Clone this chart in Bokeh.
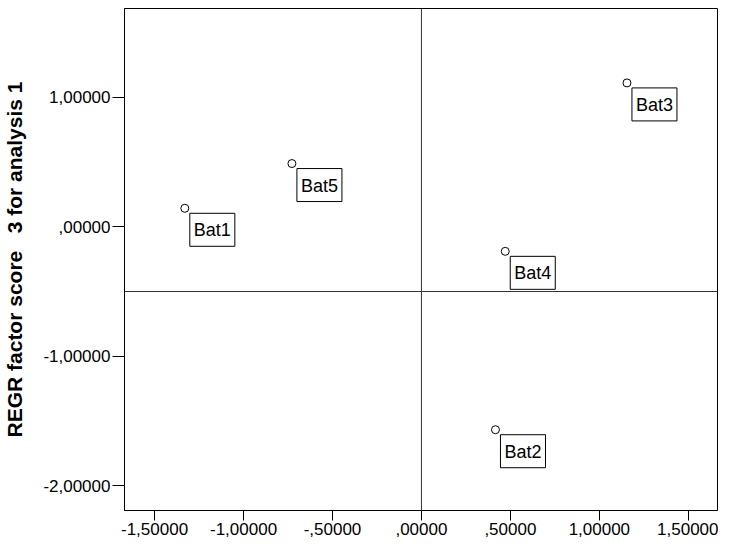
from bokeh.plotting import figure
from bokeh.models import Span, Label, FixedTicker
from bokeh.embed import file_html
from bokeh.resources import INLINE

# ---- data ----
names = ["Bat1", "Bat2", "Bat3", "Bat4", "Bat5"]
x_vals = [-1.330, 0.416, 1.155, 0.471, -0.728]
y_vals = [0.142, -1.566, 1.109, -0.190, 0.487]

x_ticks = [-1.5, -1.0, -0.5, 0.0, 0.5, 1.0, 1.5]
x_tick_labels = ["-1,50000", "-1,00000", "-,50000", ",00000", ",50000", "1,00000", "1,50000"]
y_ticks = [-2.0, -1.0, 0.0, 1.0]
y_tick_labels = ["-2,00000", "-1,00000", ",00000", "1,00000"]

ref_x = 0.0
ref_y = -0.5

y_title = "REGR factor score\u00a0\u00a0\u00a03 for analysis 1"

FONT = "Liberation Sans"

p = figure(width=718, height=541, x_range=(-1.669, 1.664), y_range=(-2.189, 1.683),
           output_backend="svg", toolbar_location=None,
           min_border_left=113, min_border_right=1, min_border_top=8, min_border_bottom=31)

p.grid.visible = False
p.outline_line_color = "black"
p.outline_line_width = 1
p.background_fill_color = "white"
p.border_fill_color = "white"

for ax, ticks, labels in ((p.xaxis[0], x_ticks, x_tick_labels), (p.yaxis[0], y_ticks, y_tick_labels)):
    ax.ticker = FixedTicker(ticks=ticks)
    ax.major_label_overrides = {t: l for t, l in zip(ticks, labels)}
    ax.minor_tick_line_color = None
    ax.major_tick_in = 0
    ax.major_tick_line_color = "black"
    ax.axis_line_color = "black"
    ax.major_label_text_font = FONT
    ax.major_label_text_font_size = "17px"
    ax.major_label_text_color = "black"

p.xaxis.major_tick_out = 10
p.yaxis.major_tick_out = 12
p.xaxis.major_label_standoff = 2
p.yaxis.major_label_standoff = 2

p.yaxis.axis_label = y_title
p.yaxis.axis_label_text_font = FONT
p.yaxis.axis_label_text_font_style = "bold"
p.yaxis.axis_label_text_font_size = "21px"
p.yaxis.axis_label_text_color = "black"
p.yaxis.axis_label_standoff = 14

p.add_layout(Span(location=ref_x, dimension="height", line_color="#333333", line_width=1))
p.add_layout(Span(location=ref_y, dimension="width", line_color="#333333", line_width=1))

p.scatter(x_vals, y_vals, size=8, marker="circle", fill_color=None, line_color="black", line_width=1)

for n, xv, yv in zip(names, x_vals, y_vals):
    p.add_layout(Label(x=xv, y=yv, text=n, x_offset=5, y_offset=-5,
                       text_align="left", text_baseline="top",
                       text_font=FONT, text_font_size="18px", text_color="black",
                       border_line_color="black", border_line_width=1,
                       background_fill_color="white",
                       padding=dict(left=4, right=4, top=7, bottom=6)))

open("out.html", "w").write(file_html(p, INLINE))
